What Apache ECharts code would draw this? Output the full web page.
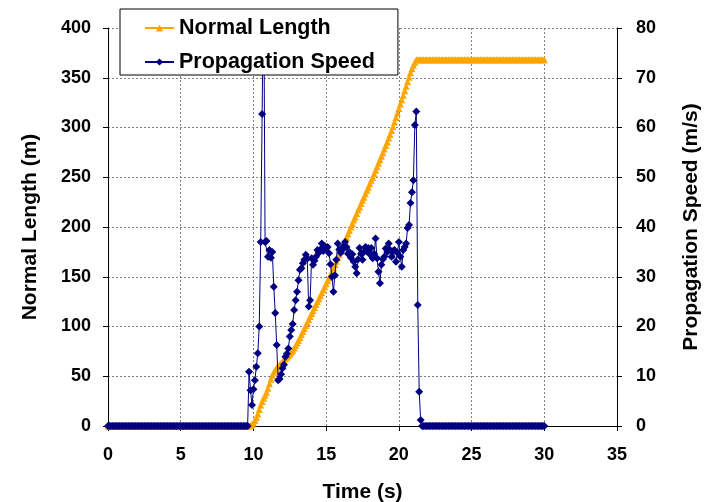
<!DOCTYPE html>
<html><head><meta charset="utf-8">
<script src="https://cdn.jsdelivr.net/npm/echarts@6/dist/echarts.min.js"></script>
<style>html,body{margin:0;padding:0;background:#fff}#c{width:709px;height:502px}</style>
</head><body><div id="c"></div>
<script>
// Sampling step of the recorded series (seconds); sample i is at time i * timeStep
const timeStep = 0.1;

const seriesNames = ['Normal Length', 'Propagation Speed'];

// Normal Length (m), t = 0.0 ... 30.0 s
const normalLength = [
  0,0,0,0,0,0,0,0,0,0,
  0,0,0,0,0,0,0,0,0,0,
  0,0,0,0,0,0,0,0,0,0,
  0,0,0,0,0,0,0,0,0,0,
  0,0,0,0,0,0,0,0,0,0,
  0,0,0,0,0,0,0,0,0,0,
  0,0,0,0,0,0,0,0,0,0,
  0,0,0,0,0,0,0,0,0,0,
  0,0,0,0,0,0,0,0,0,0,
  0,0,0,0,0,0,0,0,0.5,1.5,
  3,5.5,8.5,12,16.5,21,24.5,28,31,34,
  38,42.5,47,51,54,56.5,58.5,60,61.5,63,
  64.5,66,67.5,69,70.5,72,74,76,78.5,81,
  83.5,86,89,92,95,98,101,104,107,110,
  113,116,119,122,125,128,131,134,137,140,
  143,146,149,152,155.5,159,162,165.5,169,172,
  175.5,179,182.5,186,189.5,193,196.5,200,203.5,207,
  210,213.5,217,220,223.5,227,230,233.5,237,240,
  243.5,247,250,253.5,257,260.5,264,267.5,271,274.5,
  278.5,282,285.5,289.5,293,297,301,305.5,310,314.5,
  319,323.5,328,332.5,337,341.5,346,350.5,355,359,
  362.5,365.5,368,368,368,368,368,368,368,368,
  368,368,368,368,368,368,368,368,368,368,
  368,368,368,368,368,368,368,368,368,368,
  368,368,368,368,368,368,368,368,368,368,
  368,368,368,368,368,368,368,368,368,368,
  368,368,368,368,368,368,368,368,368,368,
  368,368,368,368,368,368,368,368,368,368,
  368,368,368,368,368,368,368,368,368,368,
  368,368,368,368,368,368,368,368,368,368,
  368
];

// Propagation Speed (m/s), t = 0.0 ... 30.0 s
const propagationSpeed = [
  0,0,0,0,0,0,0,0,0,0,
  0,0,0,0,0,0,0,0,0,0,
  0,0,0,0,0,0,0,0,0,0,
  0,0,0,0,0,0,0,0,0,0,
  0,0,0,0,0,0,0,0,0,0,
  0,0,0,0,0,0,0,0,0,0,
  0,0,0,0,0,0,0,0,0,0,
  0,0,0,0,0,0,0,0,0,0,
  0,0,0,0,0,0,0,0,0,0,
  0,0,0,0,0,0,0,10.9,7.2,4.2,
  7.4,9.2,11.9,14.6,20,37,62.7,95,37,37.2,
  34,35.4,33.8,35,28,22.7,16.3,9.2,9.5,10.4,
  11.6,12.3,13.9,14.5,15.6,18,19.3,20.5,23.3,25.3,
  27,29.3,31.4,31.7,32.7,33.4,34.4,33.6,24,25.3,
  33.7,32.4,33.2,34,35.4,34.8,35.5,36.7,35.2,36.2,
  35.7,36,34.7,32.5,30,27,30.3,33.4,36.7,35.5,
  34.8,35.4,36.2,37,36,34.6,35,33.8,34.5,33,
  32,30.7,33.5,35.8,34.6,33.4,35,36,35.2,35.8,
  34.5,35.8,33.7,34.6,37.7,33.7,31,28.7,32.4,33.5,
  34,35.7,35,36.7,35.4,34,35.2,35.4,33,34.8,
  37,34,32,35.4,36,36.7,39.8,40.4,44.8,47,
  49.4,60.5,63.2,24.3,6.9,1.2,0,0,0,0,
  0,0,0,0,0,0,0,0,0,0,
  0,0,0,0,0,0,0,0,0,0,
  0,0,0,0,0,0,0,0,0,0,
  0,0,0,0,0,0,0,0,0,0,
  0,0,0,0,0,0,0,0,0,0,
  0,0,0,0,0,0,0,0,0,0,
  0,0,0,0,0,0,0,0,0,0,
  0,0,0,0,0,0,0,0,0,0,
  0
];

const withTime = arr => arr.map((v, i) => [Math.round(i * timeStep * 10) / 10, v]);

const FONT = "'Liberation Sans', Arial, sans-serif";
const gridLine = { show: true, lineStyle: { color: '#808080', type: [2, 2], width: 1 } };
const axisLineBlack = { show: true, onZero: false, lineStyle: { color: '#000', width: 1 } };
const tickStyle = { show: true, inside: false, length: 5, lineStyle: { color: '#000' } };
const labelStyle = { color: '#000', fontFamily: FONT, fontWeight: 'bold', fontSize: 18 };
const nameStyle = { color: '#000', fontFamily: FONT, fontWeight: 'bold', fontSize: 21 };

const chart = echarts.init(document.getElementById('c'), null, { renderer: 'canvas' });
chart.setOption({
  animation: false,
  backgroundColor: '#fff',
  grid: { left: 108, right: 92, top: 28, bottom: 76, containLabel: false, outerBoundsMode: 'none' },
  legend: {
    data: seriesNames,
    orient: 'vertical',
    left: 120, top: 9,
    backgroundColor: '#fff',
    borderColor: '#000', borderWidth: 1,
    padding: [8, 23, 2, 24],
    itemGap: 12,
    itemWidth: 29, itemHeight: 9,
    textStyle: { color: '#000', fontFamily: FONT, fontWeight: 'bold', fontSize: 21.5 }
  },
  xAxis: {
    type: 'value', min: 0, max: 35, interval: 5,
    axisLine: axisLineBlack, axisTick: tickStyle,
    axisLabel: Object.assign({ margin: 20 }, labelStyle),
    splitLine: gridLine,
    name: 'Time (s)', nameLocation: 'middle', nameGap: 56, nameTextStyle: nameStyle
  },
  yAxis: [
    {
      type: 'value', min: 0, max: 400, interval: 50, position: 'left',
      axisLine: axisLineBlack, axisTick: tickStyle,
      axisLabel: Object.assign({ margin: 17 }, labelStyle),
      splitLine: gridLine,
      name: 'Normal Length (m)', nameLocation: 'middle', nameGap: 67, nameRotate: 90,
      nameTextStyle: nameStyle
    },
    {
      type: 'value', min: 0, max: 80, interval: 10, position: 'right',
      axisLine: axisLineBlack, axisTick: tickStyle,
      axisLabel: Object.assign({ margin: 19 }, labelStyle),
      splitLine: { show: false },
      name: 'Propagation Speed (m/s)', nameLocation: 'middle', nameGap: 64, nameRotate: 90,
      nameTextStyle: nameStyle
    }
  ],
  series: [
    {
      name: seriesNames[0], type: 'line', yAxisIndex: 0,
      data: withTime(normalLength),
      symbol: 'triangle', symbolSize: 7, showSymbol: true,
      itemStyle: { color: '#FFA500' },
      lineStyle: { color: '#FFA500', width: 1 },
      z: 2
    },
    {
      name: seriesNames[1], type: 'line', yAxisIndex: 1,
      data: withTime(propagationSpeed),
      symbol: 'diamond', symbolSize: 8, showSymbol: true,
      itemStyle: { color: '#000080' },
      lineStyle: { color: '#000080', width: 1 },
      z: 3
    }
  ]
});
</script>
</body></html>
